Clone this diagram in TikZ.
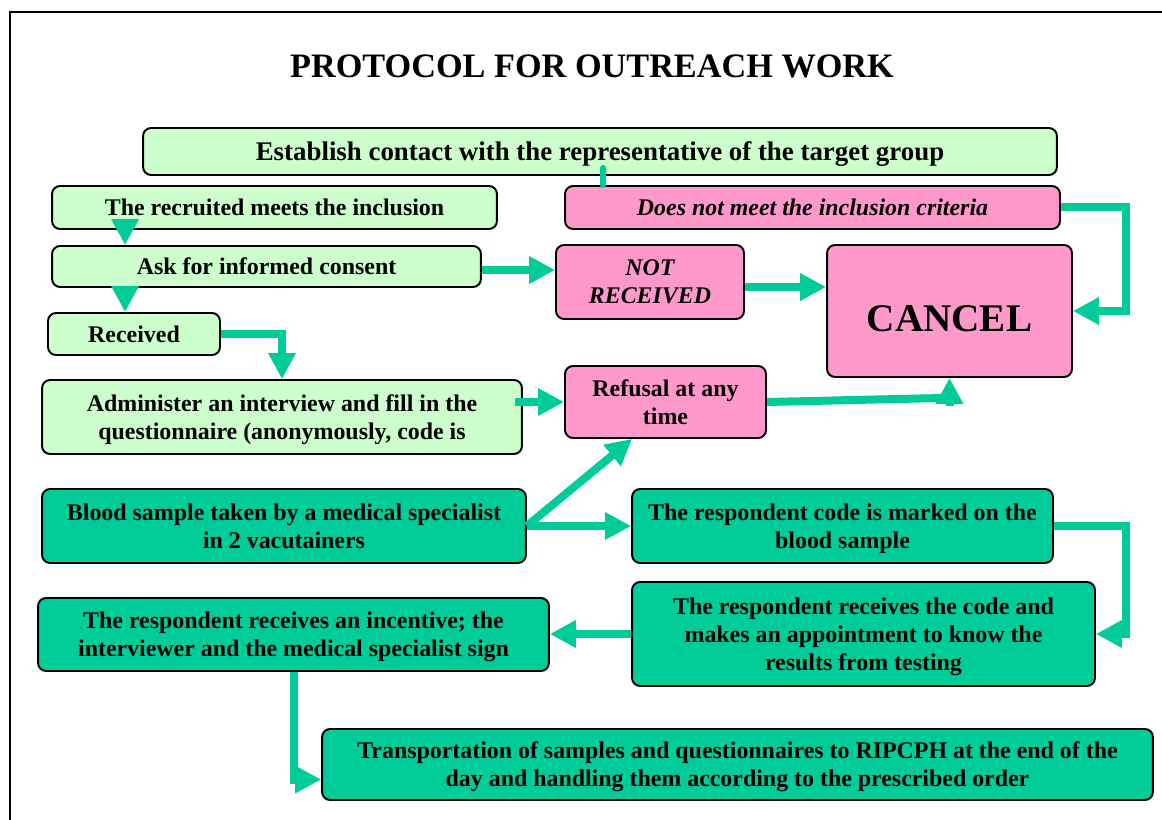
\documentclass[tikz,border=0pt]{standalone}
\usepackage{fontspec}
\setmainfont{Liberation Serif}
\usepackage{tikz}
\usetikzlibrary{arrows.meta}
\definecolor{lightgreen}{HTML}{CCFFCC}
\definecolor{pinkish}{HTML}{FF99CC}
\definecolor{seagreen}{HTML}{00CC99}
\tikzset{x=0.02cm, y=-0.02cm,
  box/.style={draw=black, line width=1.1pt, rounded corners=0.16cm, align=center,
    inner sep=0pt, text depth=0pt, font=\bfseries\fontsize{13.6}{15.9}\selectfont},
  greenbox/.style={box, fill=lightgreen},
  pinkbox/.style={box, fill=pinkish},
  tealbox/.style={box, fill=seagreen},
  flow/.style={draw=seagreen, line width=0.16cm, -{Triangle[length=0.52cm,width=0.52cm]}},
  link/.style={draw=seagreen, line width=0.12cm, line cap=round}}

\begin{document}
\begin{tikzpicture}

  \useasboundingbox (0,0) rectangle (1162,820);
  \draw[line width=1.4pt] (10,840) -- (10,12) -- (1180,12);

  \node (Title) [font=\bfseries\fontsize{19.5}{23}\selectfont] at (592,66) {PROTOCOL FOR OUTREACH WORK};

  \node (Est) [greenbox, minimum width=18.28cm, minimum height=0.94cm,
    font=\bfseries\fontsize{15.3}{18}\selectfont] at (600,151.5)
    {Establish contact with the representative of the target group};
  \node (Incl) [greenbox, minimum width=8.9cm, minimum height=0.86cm] at (274.5,207.5)
    {The recruited meets the inclusion};
  \node (NoIncl) [pinkbox, minimum width=9.9cm, minimum height=0.86cm] at (812.5,207.5)
    {\itshape Does not meet the inclusion criteria};
  \node (Ask) [greenbox, minimum width=8.58cm, minimum height=0.82cm] at (266.5,266.5)
    {Ask for informed consent};
  \node (NotRec) [pinkbox, minimum width=3.76cm, minimum height=1.48cm] at (650,282)
    {\itshape NOT\\ \itshape RECEIVED};
  \node (Cancel) [pinkbox, minimum width=4.9cm, minimum height=2.64cm, text height=0.84cm,
    font=\bfseries\fontsize{22.3}{27}\selectfont] at (949.5,311) {CANCEL};
  \node (Rec) [greenbox, minimum width=3.44cm, minimum height=0.84cm] at (134,334)
    {Received};
  \node (Intv) [greenbox, minimum width=9.6cm, minimum height=1.48cm] at (282,417)
    {Administer an interview and fill in the\\ questionnaire (anonymously, code is};
  \node (Ref) [pinkbox, minimum width=4.02cm, minimum height=1.44cm] at (665.5,402)
    {Refusal at any\\ time};
  \node (Blood) [tealbox, minimum width=9.68cm, minimum height=1.48cm] at (284,526)
    {Blood sample taken by a medical specialist\\ in 2 vacutainers};
  \node (Code) [tealbox, minimum width=8.42cm, minimum height=1.48cm] at (842.5,526)
    {The respondent code is marked on the\\ blood sample};
  \node (Appt) [tealbox, minimum width=9.26cm, minimum height=2.08cm] at (863.5,634)
    {The respondent receives the code and\\ makes an appointment to know the\\ results from testing};
  \node (Inc) [tealbox, minimum width=10.22cm, minimum height=1.46cm] at (293.5,634.5)
    {The respondent receives an incentive; the\\ interviewer and the medical specialist sign};
  \node (Trans) [tealbox, minimum width=16.62cm, minimum height=1.42cm] at (737.5,764.5)
    {Transportation of samples and questionnaires to RIPCPH at the end of the\\ day and handling them according to the prescribed order};

  \draw[link] ([xshift=0.06cm,yshift=0.16cm]Est.south) -- ([xshift=0.06cm]Est.south |- NoIncl.north);
  \draw[flow] ([xshift=1.48cm,yshift=0.18cm]Incl.south west) -- ([xshift=1.48cm]Ask.north west);
  \draw[flow] ([xshift=1.48cm]Ask.south west) -- ([xshift=1.56cm]Rec.north west);
  \draw[flow] ([yshift=-0.07cm]Ask.east) -- ([yshift=-0.07cm]Ask.east -| NotRec.west);
  \draw[flow] ([yshift=-0.1cm]NotRec.east) -- ([yshift=-0.1cm]NotRec.east -| Cancel.west);
  \draw[flow] (NoIncl.east) -- ++(65,0) |- (Cancel.east);
  \draw[flow] (Rec.east) -| (Intv.north);
  \draw[flow] ([xshift=-0.16cm]Ref.west -| Intv.east) -- (Ref.west);
  \draw[flow, -] (Ref.east) -- ([xshift=-0.1cm,yshift=-0.4cm]Cancel.south);
  \draw[flow] ([yshift=-0.56cm]Cancel.south) -- (Cancel.south);
  \draw[flow] (Blood.east) -- ([xshift=1.36cm]Ref.south west);
  \draw[flow] (Blood.east) -- (Code.west);
  \draw[flow] (Code.east) -- ++(72,0) |- (Appt.east);
  \draw[flow] (Appt.west) -- (Appt.west -| Inc.east);
  \draw[flow] (Inc.south) |- ([yshift=-0.3cm]Trans.west);

\end{tikzpicture}
\end{document}
